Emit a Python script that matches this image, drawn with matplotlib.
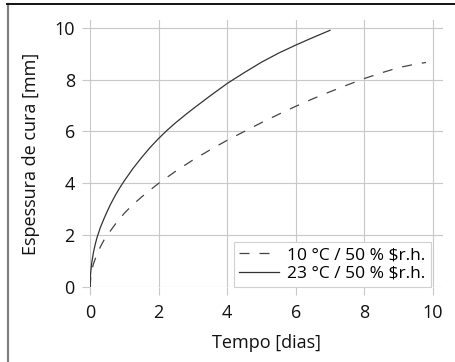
import matplotlib
matplotlib.use('Agg')
from matplotlib import pyplot as plt
from matplotlib.lines import Line2D

plt.rcParams['font.family'] = ['Open Sans', 'DejaVu Sans']

# 23 °C / 50 % r.h.
t23 = [0, 0.01, 0.02, 0.05, 0.1, 0.15, 0.2, 0.3, 0.4, 0.5, 0.6, 0.75, 0.9,
       1, 1.25, 1.5, 1.75, 2, 2.25, 2.5, 2.75, 3, 3.5, 4, 4.5, 5, 5.5, 6,
       6.5, 7]
d23 = [0, 0.45, 0.6, 0.95, 1.35, 1.65, 1.9, 2.3, 2.62, 2.92, 3.2, 3.57, 3.9,
       4.1, 4.57, 4.99, 5.38, 5.73, 6.05, 6.34, 6.61, 6.87, 7.37, 7.85, 8.27,
       8.67, 9.02, 9.33, 9.62, 9.9]

# 10 °C / 50 % r.h.
t10 = [0, 0.02, 0.05, 0.1, 0.2, 0.3, 0.4, 0.5, 0.75, 1, 1.25, 1.5, 1.75, 2,
       2.5, 3, 3.5, 4, 4.5, 5, 5.5, 6, 6.5, 7, 7.5, 8, 8.5, 9, 9.4, 9.8]
d10 = [0, 0.4, 0.65, 0.9, 1.27, 1.55, 1.8, 2.0, 2.45, 2.85, 3.18, 3.47, 3.74,
       4.0, 4.47, 4.9, 5.29, 5.66, 6.0, 6.34, 6.66, 6.97, 7.26, 7.53, 7.79,
       8.04, 8.26, 8.46, 8.57, 8.66]

labels = ['10 °C / 50 % $r.h.', '23 °C / 50 % $r.h.']
ticks = [0, 2, 4, 6, 8, 10]

fig = plt.figure(figsize=(4.55, 3.62), dpi=100)
ax = fig.add_axes([0.198, 0.207, 0.776, 0.738])

ax.plot(t10, d10, color='#444444', lw=0.9, linestyle=(0, (8, 8)), label=labels[0])
ax.plot(t23, d23, color='#333333', lw=0.9, label=labels[1])

ax.set_xlim(0, 10.3)
ax.set_ylim(0, 10.3)
ax.set_xticks(ticks)
ax.set_yticks(ticks)
ax.grid(True, color='#c8c8c8', lw=0.8)
ax.set_axisbelow(True)
for s in ax.spines.values():
    s.set_visible(False)
ax.tick_params(length=6, width=0.8, color='#c8c8c8', labelsize=13,
               labelcolor='#111111')
ax.tick_params(axis='x', pad=6)
ax.tick_params(axis='y', pad=5)

ax.set_xlabel('Tempo [dias]', fontsize=13, color='#111111', labelpad=9)
ax.set_ylabel('Espessura de cura [mm]', fontsize=13, color='#111111', labelpad=10)

leg = ax.legend(loc='lower right', bbox_to_anchor=(0.965, 0.0), fontsize=12.5,
                frameon=True, fancybox=False, framealpha=1, edgecolor='#d0d0d0',
                handlelength=2.3, borderpad=0.3, labelspacing=0.15,
                handletextpad=0.5, borderaxespad=0.0)
leg.get_frame().set_linewidth(0.8)

# frame around the figure (left and top only visible)
fig.add_artist(Line2D([7.5 / 455, 7.5 / 455], [0, 1 - 4 / 362],
                      color='#808080', lw=1.6, transform=fig.transFigure))
fig.add_artist(Line2D([7 / 455, 1], [1 - 4 / 362, 1 - 4 / 362],
                      color='#111111', lw=1.4, transform=fig.transFigure))

fig.savefig('out.png', dpi=100)
